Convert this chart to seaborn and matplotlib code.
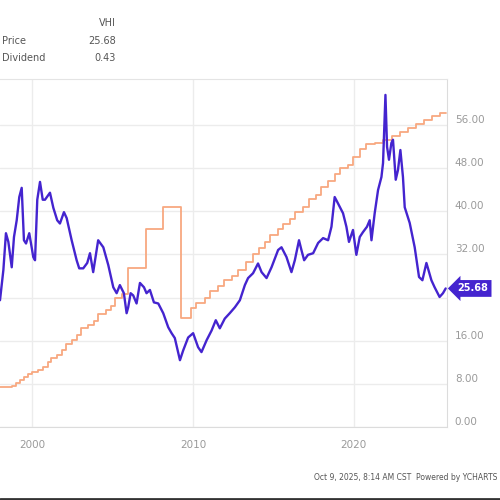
import numpy as np
import matplotlib
matplotlib.use("Agg")
import matplotlib.pyplot as plt
import matplotlib.lines as mlines
import pandas as pd
import seaborn as sns

# price series (blue)
price_years = [1997.99, 1998.20, 1998.36, 1998.51, 1998.72, 1998.86, 1999.03, 1999.19, 1999.34,
               1999.48, 1999.61, 1999.81, 1999.96, 2000.06, 2000.17, 2000.31, 2000.48, 2000.65,
               2000.79, 2001.10, 2001.31, 2001.55, 2001.72, 2001.97, 2002.14, 2002.45, 2002.76,
               2002.92, 2003.17, 2003.42, 2003.59, 2003.79, 2004.10, 2004.42, 2004.73, 2005.04,
               2005.25, 2005.45, 2005.70, 2005.87, 2005.97, 2006.12, 2006.28, 2006.49, 2006.70,
               2006.95, 2007.11, 2007.32, 2007.57, 2007.84, 2008.15, 2008.46, 2008.67, 2008.87,
               2009.19, 2009.39, 2009.70, 2010.01, 2010.32, 2010.53, 2010.85, 2011.16, 2011.42,
               2011.67, 2011.98, 2012.29, 2012.61, 2012.92, 2013.23, 2013.43, 2013.74, 2014.05,
               2014.27, 2014.58, 2014.89, 2015.30, 2015.51, 2015.82, 2016.13, 2016.34, 2016.60,
               2016.75, 2016.92, 2017.16, 2017.48, 2017.79, 2018.10, 2018.41, 2018.62, 2018.82,
               2019.03, 2019.34, 2019.55, 2019.71, 2019.96, 2020.17, 2020.38, 2020.58, 2020.83,
               2021.00, 2021.11, 2021.31, 2021.52, 2021.73, 2021.83, 2021.98, 2022.08, 2022.20,
               2022.35, 2022.45, 2022.62, 2022.76, 2022.91, 2023.07, 2023.18, 2023.49, 2023.80,
               2024.07, 2024.28, 2024.53, 2024.84, 2025.04, 2025.35, 2025.56, 2025.73]
price_values = [23.5, 29.1, 35.9, 34.3, 29.6, 35.2, 38.3, 42.6, 44.3,
                34.6, 34.0, 35.9, 33.3, 31.5, 30.9, 42.1, 45.4, 42.1,
                42.1, 43.4, 40.6, 38.3, 37.7, 39.8, 38.7, 34.6, 30.9,
                29.4, 29.4, 30.4, 32.2, 28.7, 34.6, 33.3, 30.0, 25.9,
                24.8, 26.3, 24.8, 21.1, 22.2, 24.8, 24.4, 22.9, 26.7,
                25.9, 24.8, 25.4, 23.1, 22.9, 21.1, 18.5, 17.4, 16.5,
                12.4, 14.2, 16.6, 17.4, 14.8, 13.9, 16.1, 17.9, 19.8,
                18.3, 20.1, 21.1, 22.2, 23.5, 26.3, 27.6, 28.5, 30.3,
                28.7, 27.6, 29.6, 32.8, 33.3, 31.5, 28.7, 30.9, 34.6,
                32.8, 30.9, 31.9, 32.2, 34.1, 35.0, 34.6, 37.1, 42.6,
                41.4, 39.6, 37.1, 34.3, 36.5, 31.9, 35.2, 36.1, 37.1,
                38.3, 34.6, 39.6, 43.9, 46.3, 48.9, 61.5, 51.9, 49.5,
                52.6, 53.2, 45.8, 47.6, 51.3, 46.3, 40.7, 37.8, 33.3,
                27.8, 27.2, 30.4, 27.2, 25.9, 24.1, 24.8, 25.68]

# dividend series (orange), step levels
div_years = [1997.99, 1998.74, 1998.99, 1999.24, 1999.48, 1999.73, 1999.98, 2000.35, 2000.67,
             2000.98, 2001.16, 2001.54, 2001.85, 2002.10, 2002.47, 2002.78, 2003.03, 2003.46,
             2003.84, 2004.09, 2004.58, 2004.89, 2005.14, 2005.58, 2005.95, 2007.07, 2008.13,
             2009.25, 2009.87, 2010.17, 2010.74, 2011.05, 2011.55, 2011.92, 2012.42, 2012.79,
             2013.29, 2013.73, 2014.10, 2014.48, 2014.78, 2015.28, 2015.60, 2016.03, 2016.34,
             2016.84, 2017.21, 2017.65, 2017.96, 2018.39, 2018.83, 2019.14, 2019.63, 2019.94,
             2020.38, 2020.75, 2021.31, 2021.81, 2022.37, 2022.87, 2023.36, 2023.86, 2024.36,
             2024.86, 2025.35, 2025.73]
div_values = [7.4, 7.7, 8.2, 8.7, 9.2, 9.8, 10.2, 10.6, 11.2,
              12.0, 12.8, 13.4, 14.2, 15.4, 16.2, 17.0, 18.3, 18.9,
              19.6, 21.0, 21.6, 22.4, 24.0, 24.6, 29.5, 36.7, 40.7,
              20.2, 22.0, 22.9, 24.0, 25.3, 26.2, 27.2, 28.0, 29.1,
              30.5, 32.0, 33.2, 34.3, 35.5, 36.6, 37.7, 38.6, 39.9,
              40.8, 42.2, 43.0, 44.5, 45.6, 46.8, 47.9, 48.6, 50.0,
              51.5, 52.4, 52.6, 53.2, 53.9, 54.7, 55.4, 56.2, 56.9,
              57.6, 58.2, 58.2]

y_ticks = [0, 8, 16, 24, 32, 40, 48, 56]
y_labels = ["0.00", "8.00", "16.00", "", "32.00", "40.00", "48.00", "56.00"]
x_ticks = [2000, 2010, 2020]
x_labels = ["2000", "2010", "2020"]

blue = "#4424cf"
orange = "#f8a880"
grid = "#ececec"
tick_col = "#9a9a9a"

price = pd.DataFrame({"year": price_years, "value": price_values})
div = pd.DataFrame({"year": div_years, "value": div_values})

sns.set_style("white")
fig = plt.figure(figsize=(5, 5), dpi=100)
ax = fig.add_axes([0.0, 0.1456, 0.893, 0.697])

sns.lineplot(data=div, x="year", y="value", ax=ax, color=orange, lw=1.3, drawstyle="steps-post")
sns.lineplot(data=price, x="year", y="value", ax=ax, color=blue, lw=1.7)

ax.set_xlim(1997.99, 2025.78)
ax.set_ylim(0, 64.5)
ax.set_xticks(x_ticks)
ax.set_xticklabels(x_labels)
ax.set_yticks(y_ticks)
ax.set_yticklabels(y_labels)
ax.yaxis.tick_right()
ax.tick_params(axis="both", length=0, colors=tick_col, labelsize=7.5)
ax.tick_params(axis="y", pad=6)
ax.tick_params(axis="x", pad=9)
plt.setp(ax.get_yticklabels(), va="bottom")
ax.set_xlabel("")
ax.set_ylabel("")
ax.grid(True, color=grid, lw=1)
ax.set_axisbelow(True)
ax.spines["left"].set_visible(False)
ax.spines["top"].set_color("#e4e4e4")
ax.spines["right"].set_color("#dcdcdc")
ax.spines["bottom"].set_color("#dcdcdc")

# last value flag
ax.text(1.024, price_values[-1], "%.2f" % price_values[-1],
        transform=ax.get_yaxis_transform(), ha="left", va="center",
        color="white", fontsize=7, fontweight="bold", clip_on=False, zorder=10,
        bbox=dict(boxstyle="larrow,pad=0.35", fc=blue, ec="none"))

# legend table at top
fig.text(0.232, 0.954, "VHI", ha="right", va="center", fontsize=7, color="#555555")
fig.text(0.004, 0.918, "Price", ha="left", va="center", fontsize=7, color="#555555")
fig.text(0.232, 0.918, "25.68", ha="right", va="center", fontsize=7, color="#555555")
fig.text(0.004, 0.884, "Dividend", ha="left", va="center", fontsize=7, color="#555555")
fig.text(0.232, 0.884, "0.43", ha="right", va="center", fontsize=7, color="#555555")

fig.text(0.994, 0.044, "Oct 9, 2025, 8:14 AM CST  Powered by YCHARTS", ha="right", va="center",
         fontsize=5.5, color="#555555")
fig.add_artist(mlines.Line2D([0, 1], [0.003, 0.003], color="#333333", lw=2))

fig.savefig("out.png", dpi=100)
